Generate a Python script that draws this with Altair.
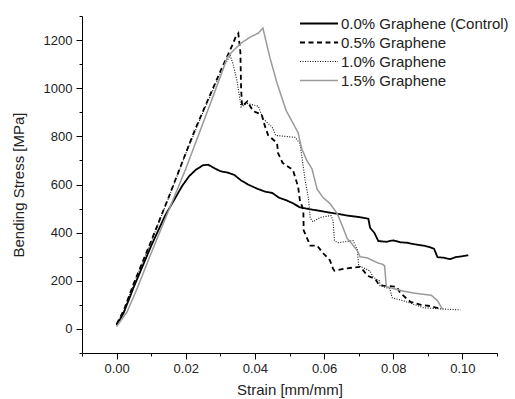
import altair as alt
import pandas as pd

series_names = ["0.0% Graphene (Control)", "0.5% Graphene", "1.0% Graphene", "1.5% Graphene"]

strain_00 = [0.0, 0.002, 0.005, 0.010, 0.014, 0.017, 0.019, 0.021, 0.023, 0.025, 0.0265, 0.028,
             0.030, 0.032, 0.034, 0.036, 0.038, 0.0406, 0.043, 0.045, 0.047, 0.049, 0.051, 0.053,
             0.056, 0.059, 0.0617, 0.064, 0.0667, 0.070, 0.0728, 0.0733, 0.0745, 0.0757, 0.078,
             0.080, 0.082, 0.084, 0.086, 0.0887, 0.0905, 0.0918, 0.0928, 0.0945, 0.0957, 0.0965,
             0.098, 0.100, 0.1017]
stress_00 = [15, 65, 175, 345, 470, 545, 595, 635, 662, 680, 682, 670,
             655, 650, 640, 617, 600, 583, 570, 565, 545, 535, 522, 505,
             497, 490, 483, 478, 471, 465, 458, 420, 400, 365, 362,
             368, 360, 358, 352, 346, 340, 333, 298, 296, 292, 290,
             298, 302, 306]

strain_05 = [0.0, 0.002, 0.005, 0.010, 0.015, 0.020, 0.0226, 0.025, 0.030, 0.0335, 0.0345, 0.0352,
             0.0358, 0.0360, 0.0363, 0.0378, 0.0395, 0.042, 0.0425, 0.0438, 0.0464, 0.0467, 0.048,
             0.051, 0.0525, 0.053, 0.054, 0.0541, 0.056, 0.058, 0.0597, 0.0617, 0.0626, 0.063,
             0.0667, 0.0704, 0.0715, 0.0725, 0.0748, 0.0757, 0.077, 0.081, 0.082, 0.085, 0.088,
             0.0907, 0.0925, 0.094]
stress_05 = [20, 75, 190, 365, 545, 730, 825, 905, 1070, 1180, 1215, 1228,
             1150, 1000, 925, 945, 905, 890, 860, 805, 772, 730, 690,
             660, 590, 535, 495, 410, 346, 346, 315, 285, 250, 242,
             252, 258, 240, 221, 208, 187, 180, 175, 150, 112, 100,
             95, 88, 84]

strain_10 = [0.0, 0.002, 0.005, 0.010, 0.015, 0.020, 0.025, 0.030, 0.0328, 0.0336, 0.0348, 0.0357,
             0.0360, 0.0377, 0.041, 0.0423, 0.045, 0.046, 0.0516, 0.053, 0.0536, 0.0545, 0.0555,
             0.056, 0.0568, 0.0588, 0.062, 0.0626, 0.063, 0.064, 0.0684, 0.0696, 0.070, 0.072,
             0.0733, 0.0742, 0.076, 0.0762, 0.079, 0.0797, 0.083, 0.0887, 0.094, 0.0994]
stress_10 = [18, 72, 188, 362, 543, 728, 900, 1060, 1137, 1104, 1033, 950,
             922, 937, 925, 875, 838, 804, 796, 771, 713, 620, 540,
             460, 445, 463, 471, 450, 367, 358, 367, 330, 262, 250,
             240, 215, 200, 179, 167, 129, 117, 88, 83, 79]

strain_15 = [0.0, 0.003, 0.006, 0.010, 0.015, 0.020, 0.0246, 0.028, 0.0307, 0.032, 0.034, 0.036,
             0.0386, 0.041, 0.0423, 0.0443, 0.0464, 0.049, 0.0525, 0.0535, 0.055, 0.0565, 0.058,
             0.0597, 0.0617, 0.0638, 0.065, 0.0667, 0.068, 0.0696, 0.0704, 0.0725, 0.0754, 0.077,
             0.0775, 0.078, 0.0826, 0.0855, 0.091, 0.0928, 0.094, 0.0945]
stress_15 = [10, 70, 170, 315, 490, 665, 840, 970, 1075, 1128, 1160, 1187,
             1212, 1229, 1250, 1129, 1021, 908, 815, 750, 700, 665, 580,
             546, 521, 479, 438, 375, 354, 325, 300, 295, 275, 268,
             262, 175, 158, 150, 140, 117, 88, 80]

x_major = [0.0, 0.02, 0.04, 0.06, 0.08, 0.10]
x_minor = [-0.01, 0.01, 0.03, 0.05, 0.07, 0.09, 0.11]
y_major = [0, 200, 400, 600, 800, 1000, 1200]
y_minor = [-100, 100, 300, 500, 700, 900, 1100, 1300]

rows = []
for name, xs, ys in zip(series_names,
                        [strain_00, strain_05, strain_10, strain_15],
                        [stress_00, stress_05, stress_10, stress_15]):
    for i, (xv, yv) in enumerate(zip(xs, ys)):
        rows.append({"series": name, "strain": xv, "stress": yv, "idx": i})
df = pd.DataFrame(rows)

FONT = "Liberation Sans"
x_scale = alt.Scale(domain=[-0.01, 0.11], nice=False, zero=False)
y_scale = alt.Scale(domain=[-100, 1300], nice=False, zero=False)

leg = alt.Legend(
    title=None, orient="none", legendX=241, legendY=0,
    symbolType="M-6.1,0H1.5", symbolSize=100, labelOffset=3, rowPadding=3,
    labelFont=FONT, labelFontSize=15, labelColor="#222222", labelLimit=300,
)

common_axis = dict(labelFont=FONT, titleFont=FONT, labelColor="#222222", titleColor="#222222",
                   titleFontWeight="normal", domainColor="#000000", tickColor="#000000",
                   grid=False, tickWidth=1, domainWidth=1)

lines = alt.Chart(df).mark_line(clip=True).encode(
    x=alt.X("strain:Q", scale=x_scale,
            axis=alt.Axis(values=x_major, format=".2f", title="Strain [mm/mm]", tickSize=6,
                          labelFontSize=13, titleFontSize=15, labelPadding=3, titlePadding=7,
                          orient="bottom", **common_axis)),
    y=alt.Y("stress:Q", scale=y_scale,
            axis=alt.Axis(values=y_major, format="d", title="Bending Stress [MPa]", tickSize=6,
                          labelFontSize=13, titleFontSize=15, labelPadding=4, titlePadding=17,
                          orient="left", **common_axis)),
    color=alt.Color("series:N", scale=alt.Scale(domain=series_names,
                                                range=["#000000", "#000000", "#111111", "#9a9a9a"]),
                    legend=leg),
    strokeDash=alt.StrokeDash("series:N", scale=alt.Scale(domain=series_names,
                                                          range=[[1, 0], [5, 3.5], [1, 1.5], [1, 0]]),
                              legend=leg),
    strokeWidth=alt.StrokeWidth("series:N", scale=alt.Scale(type="ordinal", domain=series_names,
                                                            range=[1.8, 1.8, 1.1, 1.5]),
                                legend=leg),
    order=alt.Order("idx:Q"),
)

minor = alt.Chart(df).mark_point(opacity=0).encode(
    x=alt.X("strain:Q", scale=x_scale,
            axis=alt.Axis(values=x_minor, labels=False, domain=False, title=None, tickSize=3,
                          orient="bottom", tickColor="#000000", grid=False)),
    y=alt.Y("stress:Q", scale=y_scale,
            axis=alt.Axis(values=y_minor, labels=False, domain=False, title=None, tickSize=3,
                          orient="left", tickColor="#000000", grid=False)),
)

chart = alt.layer(lines, minor).resolve_axis(x="independent", y="independent").properties(
    width=415, height=337,
    autosize=alt.AutoSizeParams(type="none"),
    padding={"left": 82, "top": 16, "right": 18, "bottom": 46},
    background="white",
).configure_view(stroke=None)

chart.save("out.html", embed_options={"renderer": "svg", "actions": False})
